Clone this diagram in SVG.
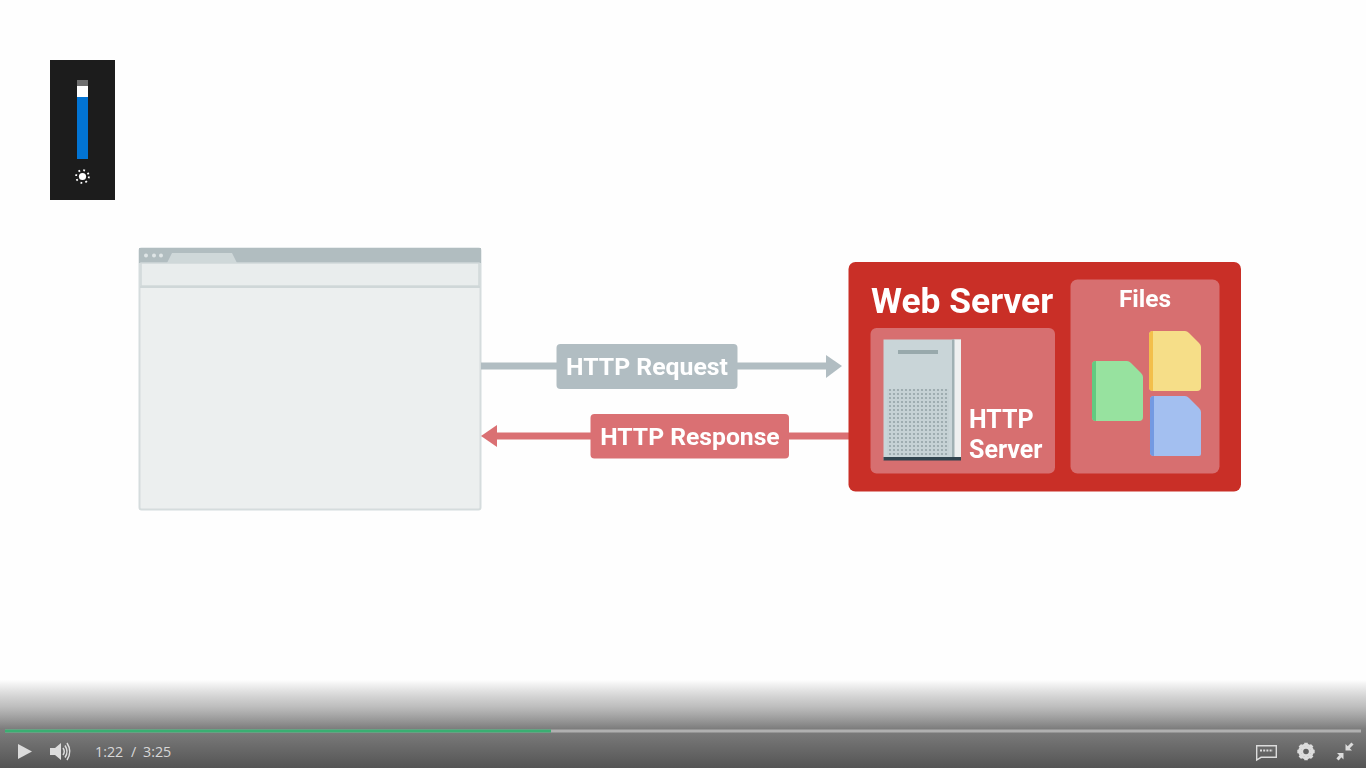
<svg xmlns="http://www.w3.org/2000/svg" width="1366" height="768" viewBox="0 0 1366 768">
<style>
.lbl{font-family:Roboto,"Liberation Sans",sans-serif;font-weight:700;fill:#fff}
.time{font-family:"Open Sans","Liberation Sans",sans-serif;font-size:14.300px;fill:#d8d8d8}
.ctl{fill:#dcdcdc}
</style>
<defs>
<linearGradient id="fade" x1="0" y1="0" x2="0" y2="1">
<stop offset="0" stop-color="#777" stop-opacity="0"/>
<stop offset="0.3" stop-color="#8a8a8a" stop-opacity=".55"/>
<stop offset="0.55" stop-color="#777" stop-opacity=".95"/>
<stop offset="1" stop-color="#545454"/>
</linearGradient>
<pattern id="grill" width="4" height="4" patternUnits="userSpaceOnUse"><rect width="4" height="4" fill="#c6d2d5"/><circle cx="2" cy="2" r="1.100" fill="#95a4a8"/></pattern>
<filter id="soft" x="-5%" y="-5%" width="110%" height="110%"><feGaussianBlur stdDeviation="0.6"/></filter>
<filter id="softtext" x="-5%" y="-15%" width="110%" height="130%"><feGaussianBlur stdDeviation="0.35"/></filter>
</defs>
<rect width="1366" height="768" fill="#fefefe"/>

<g id="brightness">
<rect x="50" y="60" width="65" height="140" fill="#1c1c1c"/>
<rect x="77" y="80" width="11" height="6" fill="#6e6e6e"/>
<rect x="77" y="86" width="11" height="11" fill="#fff"/>
<rect x="77" y="97" width="11" height="62" fill="#0274d4"/>
<circle cx="82.500" cy="176.500" r="3.600" fill="#fff"/>
<g stroke="#fff" stroke-width="1.800" stroke-dasharray="1.800 3.230" fill="none"><circle cx="82.500" cy="176.500" r="6.400"/></g>
</g>

<g id="browser" filter="url(#soft)">
<rect x="139.500" y="248.500" width="341" height="261" rx="2" fill="#ecefef" stroke="#d5dcdd" stroke-width="2"/>
<rect x="139" y="248" width="342" height="15" fill="#b1bdc0"/>
<path d="M167 263 L172 253 H232 L237 263Z" fill="#cfd8d9"/>
<circle cx="146" cy="255.500" r="2" fill="#dfe5e6"/><circle cx="154" cy="255.500" r="2" fill="#dfe5e6"/><circle cx="161" cy="255.500" r="2" fill="#dfe5e6"/>
<rect x="141" y="263" width="338" height="23" fill="#e9eded" stroke="#d0d8d9" stroke-width="1.500"/>
<rect x="140" y="286" width="340" height="2" fill="#cfd7d8"/>
</g>

<g id="connectors" filter="url(#soft)">
<path d="M481 366 H828" stroke="#b1bdc2" stroke-width="7" fill="none"/>
<path d="M826 355 L842 366 L826 378Z" fill="#b1bdc2"/>
<path d="M497 436 H849" stroke="#da7073" stroke-width="7" fill="none"/>
<path d="M497 425 L481 436 L497 447Z" fill="#da7073"/>
</g>

<g id="http-request">
<rect x="556.500" y="344" width="181" height="45" rx="4" fill="#b1bdc2"/>
<text class="lbl" filter="url(#softtext)" x="647" y="375" font-size="24.800" text-anchor="middle">HTTP Request</text>
</g>
<g id="http-response">
<rect x="590.500" y="414" width="198.500" height="44.500" rx="4" fill="#da7073"/>
<text class="lbl" filter="url(#softtext)" x="690" y="445" font-size="24.700" text-anchor="middle">HTTP Response</text>
</g>

<g id="web-server">
<rect x="848.500" y="262" width="392.500" height="229.500" rx="7" fill="#c92f27"/>
<text class="lbl" filter="url(#softtext)" x="871" y="313" font-size="35.400">Web Server</text>
<rect x="870.500" y="328" width="184.500" height="145.500" rx="6" fill="#d76f70"/>
<g filter="url(#soft)">
<rect x="883.500" y="339.500" width="77.500" height="120.500" fill="#c9d5d8"/>
<rect x="954" y="339.500" width="7" height="120.500" fill="#eef0f0"/>
<rect x="952" y="339.500" width="2.500" height="120.500" fill="#9fb0b3"/>
<rect x="898" y="350" width="40" height="4" fill="#98a9ac"/>
<rect x="887" y="389" width="62" height="66" fill="url(#grill)"/>
<rect x="883.500" y="457" width="77.500" height="3.500" fill="#33454f"/>
</g>
<text class="lbl" filter="url(#softtext)" font-size="25" x="969" y="427.500">HTTP</text>
<text class="lbl" filter="url(#softtext)" font-size="25" x="969" y="458">Server</text>
</g>

<g id="files">
<rect x="1070.500" y="279.500" width="149" height="194" rx="7" fill="#d76f70"/>
<text class="lbl" filter="url(#softtext)" x="1145" y="306.500" font-size="24.500" text-anchor="middle">Files</text>
<g id="file-green" filter="url(#soft)">
<path d="M1096 361 H1127 Q1129 361 1131 363 L1141 373 Q1143 375 1143 377 V417 Q1143 421 1139 421 H1096 Q1092 421 1092 417 V365 Q1092 361 1096 361Z" fill="#97e29f"/>
<path d="M1096 361 V421 Q1092 421 1092 417 V365 Q1092 361 1096 361Z" fill="#62ca80"/>
</g>
<g id="file-yellow" filter="url(#soft)">
<path d="M1153 331 H1185 Q1187 331 1189 333 L1199 343 Q1201 345 1201 347 V387 Q1201 391 1197 391 H1153 Q1149 391 1149 387 V335 Q1149 331 1153 331Z" fill="#f6de88"/>
<path d="M1153 331 V391 Q1149 391 1149 387 V335 Q1149 331 1153 331Z" fill="#f3bf4c"/>
</g>
<g id="file-blue" filter="url(#soft)">
<path d="M1154 396 H1185 Q1187 396 1189 398 L1199 408 Q1201 410 1201 412 V454 Q1201 456 1199 456 H1154 Q1150 456 1150 452 V400 Q1150 396 1154 396Z" fill="#a3bff0"/>
<path d="M1154 396 V456 Q1150 456 1150 452 V400 Q1150 396 1154 396Z" fill="#7399e2"/>
</g>
</g>

<g id="player">
<rect x="0" y="680" width="1366" height="88" fill="url(#fade)"/>
<rect x="5" y="729.500" width="1356" height="3" fill="#b0b0b0"/>
<rect x="5" y="729.500" width="546" height="3" fill="#3aae72"/>
<path class="ctl" d="M18 744 L32 751.500 L18 759Z"/>
<path class="ctl" d="M50 748 H55 L61 743 V760 L55 755 H50Z"/>
<g fill="none" stroke="#dcdcdc" stroke-width="1.500"><path d="M63 748 Q65.500 751.500 63 755"/><path d="M65 745.500 Q69 751.500 65 757.500"/><path d="M67 743 Q72.500 751.500 67 760"/></g>
<text class="time" x="95" y="756.500">1:22</text>
<text class="time" x="131" y="756.500">/</text>
<text class="time" x="143" y="756.500">3:25</text>
<g fill="none" stroke="#dcdcdc" stroke-width="1.400"><path d="M1256.700 745.700 H1276.300 V757.300 H1261 L1256.700 760Z"/></g>
<path d="M1260 750.500 H1273" stroke="#dcdcdc" stroke-width="2" stroke-dasharray="2 1.200"/>
<g id="gear" stroke="#dcdcdc" stroke-width="3.600"><path d="M1306 742.800 V760.200 M1297.300 751.500 H1314.700 M1299.850 745.350 L1312.150 757.650 M1312.150 745.350 L1299.850 757.650"/>
<circle cx="1306" cy="751.500" r="5" fill="#dcdcdc" stroke="none"/><circle cx="1306" cy="751.500" r="6.500" fill="none" stroke-width="2.500"/><circle cx="1306" cy="751.500" r="2.800" fill="#626262" stroke="none"/></g>
<g id="shrink"><path class="ctl" d="M1345.500 744 V750.500 H1352Z"/><path d="M1348 748 L1352.500 743.500" stroke="#dcdcdc" stroke-width="3"/>
<path class="ctl" d="M1343.500 753 H1337 L1343.500 759.500Z"/><path d="M1340.500 756 L1337.500 759.500" stroke="#dcdcdc" stroke-width="3"/></g>
</g>
</svg>
